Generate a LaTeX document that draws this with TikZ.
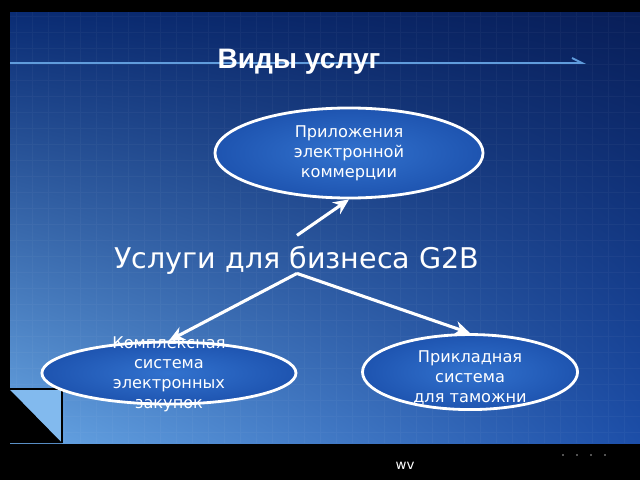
\documentclass[tikz,border=0pt]{standalone}
\usepackage{fontspec}
\setmainfont{DejaVu Sans}
\newfontfamily\titlefont{Liberation Sans}
\usetikzlibrary{shapes.geometric, arrows.meta, positioning, shadings}
\definecolor{paneltl}{RGB}{10,44,116}
\definecolor{paneltr}{RGB}{8,30,88}
\definecolor{panelbl}{RGB}{104,166,228}
\definecolor{panelbr}{RGB}{28,78,168}
\definecolor{ellmid}{RGB}{50,114,206}
\definecolor{elledge}{RGB}{30,84,176}
\definecolor{rulecol}{RGB}{96,156,220}
\definecolor{foldcol}{RGB}{130,186,238}
\tikzstyle{service} = [
  ellipse,
  draw=white,
  line width=2pt,
  inner color=ellmid,
  outer color=elledge
]
\tikzstyle{servicetext} = [
  text=white,
  align=center,
  font=\fontsize{11.5}{14.2}\selectfont
]
\tikzstyle{arrow} = [white, line width=2.2pt, -{Stealth[length=11pt,width=10pt]}]

\begin{document}
\begin{tikzpicture}[x=0.025cm, y=-0.025cm, node distance=2.8cm]
    \fill[black] (0,0) rectangle (640,480);
    \useasboundingbox (0,0) rectangle (640,480);
    % background panel
    \shade[upper left=paneltl, upper right=paneltr, lower left=panelbl, lower right=panelbr] (10,12) rectangle (640,443);
    \draw[white, opacity=0.035, line width=0.3pt, step=0.4cm] (10,12) grid (640,443);
    \fill[foldcol] (10,390) -- (62,390) -- (62,443) -- cycle;
    \fill[black] (10,390) -- (10,443) -- (62,443) -- cycle;
    \draw[black, line width=2pt] (10,389) -- (62,389) -- (62,443);
    \draw[rulecol, line width=1.4pt] (10,63) -- (582,63) -- (572,58);

    \node (title) [text=white, font=\titlefont\bfseries\fontsize{20}{24}\selectfont] at (299,62) {Виды услуг};
    \node (apps) [service, minimum width=6.7cm, minimum height=2.25cm] at (349,153) {};
    \node (g2b) [text=white, font=\fontsize{20.3}{24}\selectfont, below of=apps, xshift=-1.3cm, yshift=0.125cm] {Услуги для бизнеса G2B};
    \node (procure) [service, minimum width=6.35cm, minimum height=1.55cm, below of=g2b, xshift=-3.2cm, yshift=-0.025cm] {};
    \node (customs) [service, minimum width=5.375cm, minimum height=1.875cm, below of=g2b, xshift=4.325cm] {};

    \node (apps-text) [servicetext] at (apps) {Приложения\\электронной\\коммерции};
    \node (procure-text) [servicetext, yshift=-1pt] at (procure) {Комплексная\\система\\электронных\\закупок};
    \node (customs-text) [servicetext, yshift=-4pt] at (customs) {Прикладная\\система\\для таможни};

    \draw [arrow] ([yshift=4pt]g2b.north) -- (apps.south);
    \draw [arrow] ([yshift=4pt]g2b.south) -- (procure.north);
    \draw [arrow] ([yshift=4pt]g2b.south) -- (customs.north);

    \node (footer) [text=white, font=\fontsize{9.5}{11}\selectfont] at (405,466) {wv};
    \foreach \x in {563,577,591,605}
      \fill[gray!70] (\x,455) circle[radius=0.6pt];
  \end{tikzpicture}
\end{document}
